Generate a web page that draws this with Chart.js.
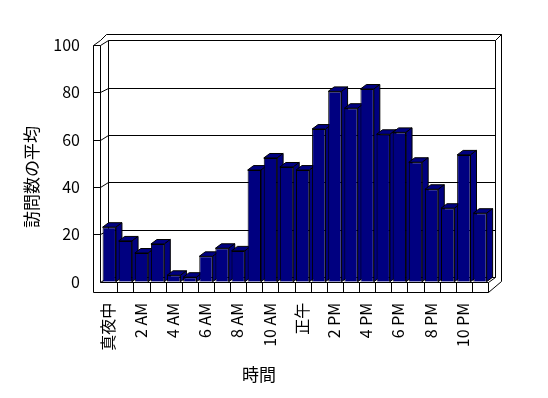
<!DOCTYPE html>
<html>
<head>
<meta charset="utf-8">
<script src="https://cdn.jsdelivr.net/npm/chart.js@4.4.0/dist/chart.umd.min.js"></script>
<style>
  html, body { margin: 0; padding: 0; background: #fff; }
  canvas { display: block; }
</style>
</head>
<body>
<canvas id="myChart" width="548" height="398"></canvas>
<script>
// one bar per hour of the day
var hours = ['真夜中','1 AM','2 AM','3 AM','4 AM','5 AM','6 AM','7 AM','8 AM','9 AM','10 AM','11 AM',
             '正午','1 PM','2 PM','3 PM','4 PM','5 PM','6 PM','7 PM','8 PM','9 PM','10 PM','11 PM'];
// average number of visits
var visits = [23, 17.2, 12.1, 15.9, 2.7, 1.9, 10.7, 14.1, 13, 47.1, 52.2, 48.4,
              47.1, 64.4, 80.3, 73.2, 81.3, 62.2, 63, 50.4, 39, 31, 53.5, 28.9];
var yTicks = [0, 20, 40, 60, 80, 100];
var xTitle = '時間';
var yTitle = '訪問数の平均';

var fontFamily = '"Noto Sans CJK JP", "Noto Sans", sans-serif';
var wallDepth = { x: 7, y: -4.5 };
var barDepth = { x: 6, y: -4.5 };

function line(ctx, x1, y1, x2, y2) {
  ctx.beginPath();
  ctx.moveTo(x1, y1);
  ctx.lineTo(x2, y2);
  ctx.stroke();
}
function crisp(v) { return Math.round(v) + 0.5; }

// draws the excel-like 3d box and the tops/sides of the bars
var frame3d = {
  id: 'frame3d',
  beforeDatasetsDraw: function (chart) {
    var ctx = chart.ctx, a = chart.chartArea;
    var xs = chart.scales.x, ys = chart.scales.y;
    var L = a.left, R = a.right, T = a.top, B = a.bottom;
    var innerL = crisp(L - 1.2), outerL = crisp(L - 8.5);
    var backL = crisp(innerL + wallDepth.x), backR = crisp(R + wallDepth.x);
    var outerR = crisp(R + 13), topBand = crisp(T - 10.7);
    var dy = wallDepth.y;

    ctx.save();
    ctx.strokeStyle = '#000';
    ctx.lineWidth = 1;

    // back wall gridlines and the left wall lines
    yTicks.forEach(function (v) {
      var py = ys.getPixelForValue(v);
      line(ctx, backL, crisp(py + dy), backR, crisp(py + dy));
      if (v > 0) line(ctx, outerL, crisp(py), innerL, crisp(py));
      line(ctx, innerL, crisp(py), backL, crisp(py + dy));
    });
    line(ctx, outerL, crisp(T), outerL, crisp(B + 10));
    line(ctx, innerL, crisp(T), innerL, crisp(B));
    line(ctx, backL, crisp(T + dy), backL, crisp(B + dy));
    line(ctx, backR, crisp(T + dy), backR, crisp(B + dy));
    line(ctx, outerR, topBand, outerR, crisp(B - 1));

    // wall top edges
    ctx.beginPath();
    ctx.moveTo(outerL, crisp(T));
    ctx.lineTo(outerL + wallDepth.x, crisp(T + dy));
    ctx.lineTo(outerL + wallDepth.x + 6, topBand);
    ctx.lineTo(outerR, topBand);
    ctx.stroke();
    line(ctx, backR, crisp(T + dy), outerR, topBand);

    // floor front strip with a box per hour
    var fb = crisp(B + 10);
    line(ctx, innerL, crisp(B), crisp(R), crisp(B));
    line(ctx, outerL, fb, crisp(R), fb);
    for (var i = 1; i < hours.length; i++) {
      var bx = crisp((xs.getPixelForValue(i - 1) + xs.getPixelForValue(i)) / 2);
      line(ctx, bx, crisp(B), bx, fb);
    }
    line(ctx, crisp(R), crisp(B), crisp(R), fb);
    line(ctx, crisp(R), fb, outerR, crisp(B - 1));
    line(ctx, crisp(R), crisp(B), backR, crisp(B + dy));

    // tops and sides of the bars
    ctx.fillStyle = '#000080';
    chart.getDatasetMeta(0).data.forEach(function (bar) {
      var p = bar.getProps(['x', 'y', 'base', 'width'], true);
      var l = p.x - p.width / 2, r = p.x + p.width / 2;
      ctx.beginPath();
      ctx.moveTo(l, p.y);
      ctx.lineTo(r, p.y);
      ctx.lineTo(r + barDepth.x, p.y + barDepth.y);
      ctx.lineTo(l + barDepth.x, p.y + barDepth.y);
      ctx.closePath();
      ctx.fill();
      ctx.stroke();
      ctx.beginPath();
      ctx.moveTo(r, p.y);
      ctx.lineTo(r + barDepth.x, p.y + barDepth.y);
      ctx.lineTo(r + barDepth.x, p.base + barDepth.y);
      ctx.lineTo(r, p.base);
      ctx.closePath();
      ctx.fill();
      ctx.stroke();
    });
    ctx.restore();
  },
  afterDraw: function (chart) {
    var ctx = chart.ctx, a = chart.chartArea;
    var xs = chart.scales.x, ys = chart.scales.y;
    ctx.save();
    ctx.fillStyle = '#000';
    ctx.font = '16px ' + fontFamily;

    // value labels
    ctx.textAlign = 'right';
    ctx.textBaseline = 'middle';
    yTicks.forEach(function (v) {
      ctx.fillText(String(v), 80, ys.getPixelForValue(v));
    });

    // hour labels, every second one
    hours.forEach(function (h, i) {
      if (i % 2) return;
      ctx.save();
      ctx.translate(xs.getPixelForValue(i) - 1, a.bottom + 21);
      ctx.rotate(-Math.PI / 2);
      ctx.textAlign = 'right';
      ctx.textBaseline = 'middle';
      ctx.fillText(h, 0, 0);
      ctx.restore();
    });

    // axis titles
    ctx.font = '17px ' + fontFamily;
    ctx.textAlign = 'center';
    ctx.textBaseline = 'middle';
    ctx.fillText(xTitle, 259, 375);
    ctx.translate(32, 177);
    ctx.rotate(-Math.PI / 2);
    ctx.fillText(yTitle, 0, 0);
    ctx.restore();
  }
};

var ctx = document.getElementById('myChart');
var myChart = new Chart(ctx, {
  type: 'bar',
  data: {
    labels: hours,
    datasets: [{
      data: visits,
      backgroundColor: '#000080',
      borderColor: '#000',
      borderWidth: 1,
      barPercentage: 0.83,
      categoryPercentage: 1
    }]
  },
  options: {
    responsive: false,
    animation: false,
    layout: { padding: { left: 101.2, right: 60, top: 44.7, bottom: 116.3 } },
    plugins: { legend: { display: false }, tooltip: { enabled: false } },
    scales: {
      x: { display: false },
      y: { display: false, min: 0, max: 100 }
    }
  },
  plugins: [frame3d]
});
</script>
</body>
</html>
